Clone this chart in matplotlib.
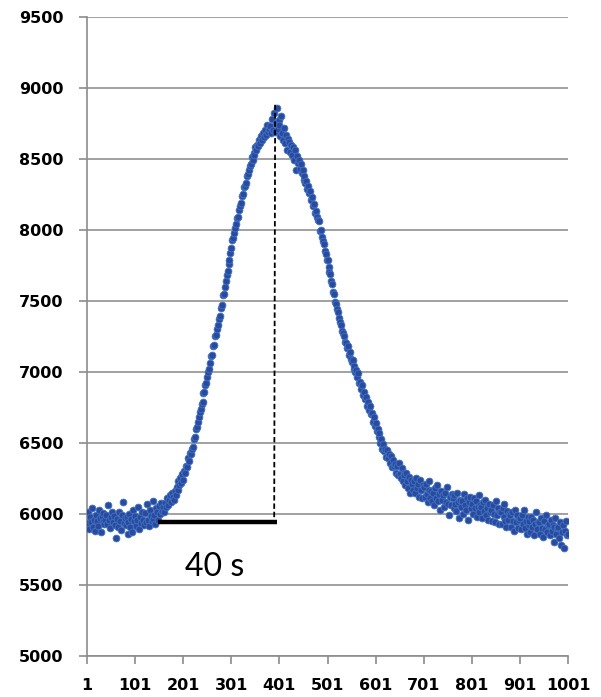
import numpy as np
import matplotlib.pyplot as plt

# sample index (every second frame) and measured intensity
frames = np.arange(1, 1002, 2)
intensity = [
    5935, 6010, 5890, 5975, 5940, 6040, 5905, 5960, 5880, 5995,
    5950, 5915, 6030, 5970, 5870, 5985, 5945, 6005, 5925, 5960,
    5990, 5930, 6060, 5955, 5900, 5975, 6015, 5940, 5985, 5920,
    5830, 5965, 5905, 6010, 5950, 5885, 5995, 6080, 5935, 5970,
    5920, 5980, 5860, 5945, 6000, 5910, 5965, 5875, 6025, 5950,
    5985, 5915, 5960, 6045, 5890, 5975, 5935, 6010, 5955, 5920,
    6005, 5940, 6070, 5960, 5915, 6030, 5985, 5950, 6090, 5965,
    5990, 5930, 6040, 6010, 5960, 6055, 6000, 6075, 6020, 6045,
    6010, 6075, 6050, 6110, 6060, 6095, 6130, 6085, 6150, 6120,
    6100, 6160, 6130, 6190, 6170, 6230, 6200, 6250, 6215, 6280,
    6240, 6300, 6290, 6340, 6330, 6390, 6370, 6430, 6420, 6460,
    6470, 6530, 6540, 6600, 6610, 6650, 6680, 6720, 6740, 6770,
    6790, 6850, 6860, 6910, 6920, 6960, 7000, 7020, 7060, 7110,
    7120, 7180, 7190, 7250, 7260, 7300, 7330, 7370, 7390, 7450,
    7470, 7540, 7550, 7600, 7640, 7680, 7710, 7760, 7790, 7840,
    7870, 7930, 7940, 7980, 8010, 8040, 8080, 8090, 8140, 8170,
    8190, 8240, 8250, 8300, 8310, 8330, 8380, 8390, 8420, 8450,
    8460, 8510, 8490, 8540, 8530, 8580, 8560, 8600, 8590, 8630,
    8610, 8660, 8630, 8680, 8650, 8700, 8670, 8740, 8690, 8710,
    8730, 8680, 8780, 8700, 8820, 8690, 8750, 8860, 8710, 8770,
    8740, 8660, 8800, 8680, 8630, 8720, 8610, 8670, 8560, 8640,
    8620, 8550, 8600, 8530, 8580, 8490, 8560, 8420, 8520, 8470,
    8490, 8430, 8460, 8400, 8420, 8350, 8380, 8330, 8340, 8290,
    8310, 8260, 8270, 8210, 8230, 8170, 8180, 8120, 8130, 8090,
    8070, 8060, 7990, 8000, 7950, 7920, 7900, 7850, 7830, 7790,
    7790, 7740, 7700, 7690, 7640, 7620, 7560, 7550, 7490, 7480,
    7440, 7420, 7380, 7350, 7330, 7290, 7270, 7250, 7210, 7200,
    7170, 7180, 7120, 7140, 7090, 7070, 7080, 7020, 7040, 7000,
    7010, 6960, 6990, 6920, 6930, 6880, 6910, 6840, 6860, 6810,
    6820, 6760, 6790, 6730, 6760, 6700, 6710, 6650, 6680, 6620,
    6640, 6580, 6600, 6540, 6570, 6500, 6530, 6460, 6490, 6440,
    6460, 6400, 6450, 6390, 6420, 6360, 6410, 6330, 6380, 6340,
    6350, 6290, 6340, 6270, 6360, 6280, 6250, 6320, 6230, 6290,
    6270, 6200, 6290, 6230, 6180, 6260, 6150, 6240, 6210, 6170,
    6230, 6150, 6250, 6180, 6210, 6120, 6240, 6170, 6110, 6200,
    6190, 6120, 6210, 6140, 6080, 6170, 6230, 6110, 6160, 6090,
    6150, 6060, 6180, 6110, 6200, 6090, 6140, 6030, 6160, 6100,
    6130, 6050, 6150, 6080, 6190, 6070, 5990, 6120, 6060, 6140,
    6110, 6040, 6130, 6070, 6020, 6150, 6080, 5970, 6100, 6050,
    6090, 6000, 6140, 6060, 6030, 6110, 5960, 6080, 6120, 6040,
    6070, 6000, 6110, 6040, 6090, 5980, 6050, 6130, 6010, 6060,
    6050, 5970, 6080, 6020, 6100, 5990, 6040, 5960, 6070, 6010,
    6030, 5950, 6060, 6000, 5940, 6090, 5990, 6040, 5930, 6010,
    6010, 5930, 6040, 5980, 6070, 5950, 5910, 6020, 5960, 6000,
    5990, 5910, 6010, 5950, 5880, 6030, 5940, 5990, 5900, 5960,
    5970, 5890, 5990, 5930, 6030, 5900, 5950, 5860, 5980, 5920,
    5950, 5870, 5980, 5910, 5960, 5850, 5930, 6010, 5890, 5940,
    5940, 5860, 5970, 5900, 5840, 5950, 5890, 5990, 5870, 5920,
    5930, 5850, 5960, 5880, 5920, 5800, 5910, 5970, 5860, 5900,
    5910, 5830, 5940, 5780, 5870, 5920, 5760, 5880, 5950, 5850,
    5860,
]

x_ticks = list(range(1, 1002, 100))
y_ticks = list(range(5000, 9501, 500))

# peak marker and rise-time bar
peak_x = [392, 390]
peak_y = [8880, 5944]
bar_x = [149, 395]
bar_y = [5944, 5944]

fig = plt.figure(figsize=(6.01, 6.97), dpi=100)
ax = fig.add_axes([0.145, 0.059, 0.8, 0.917])

ax.set_axisbelow(True)
ax.grid(axis='y', color='#9a9a9a', linewidth=1.3)
ax.scatter(frames, intensity, s=24, color='#2b4a9e', edgecolors='#3f74c4',
           linewidths=0.6, zorder=3)

ax.plot(peak_x, peak_y, color='black', linestyle=(0, (3, 1.6)), linewidth=1.3, zorder=4)
ax.plot(bar_x, bar_y, color='black', linewidth=3.2, solid_capstyle='butt', zorder=4)
ax.text(205, 5560, '40 s', fontsize=23, family='Lato', ha='left', va='baseline')

ax.set_xlim(1, 1001)
ax.set_ylim(5000, 9500)
ax.set_xticks(x_ticks)
ax.set_yticks(y_ticks)
for lbl in ax.get_xticklabels() + ax.get_yticklabels():
    lbl.set_fontweight('bold')
    lbl.set_fontsize(11.5)

for side in ['top', 'right']:
    ax.spines[side].set_visible(False)
for side in ['left', 'bottom']:
    ax.spines[side].set_color('#8c8c8c')
    ax.spines[side].set_linewidth(1.2)
ax.tick_params(axis='both', color='#8c8c8c', length=6, width=1.2)
ax.tick_params(axis='y', pad=11)
ax.tick_params(axis='x', pad=10)

fig.savefig('out.png', dpi=100)
